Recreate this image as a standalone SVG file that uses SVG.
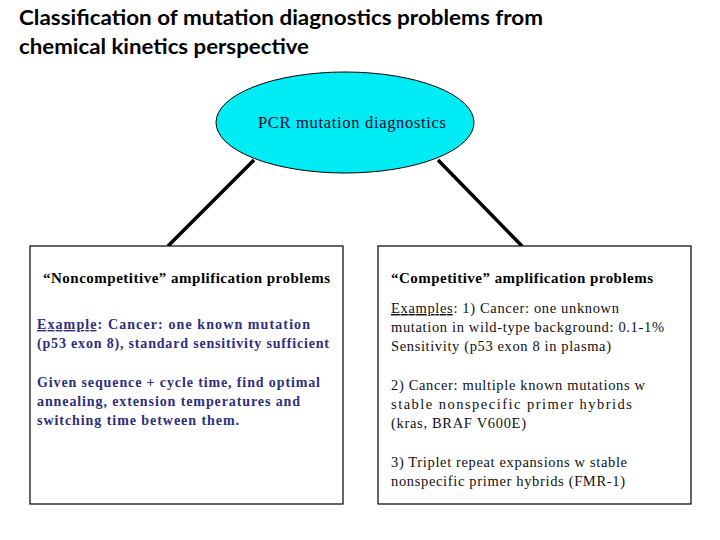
<svg xmlns="http://www.w3.org/2000/svg" width="720" height="540" viewBox="0 0 720 540">
<style>
.title{font-family:Lato,"Liberation Sans",sans-serif;font-weight:bold;font-size:20px;fill:#000}
.head{font-family:"Liberation Serif","Times New Roman",serif;font-weight:bold;font-size:15px;fill:#000}
.navy{font-family:"Liberation Serif","Times New Roman",serif;font-weight:bold;font-size:14px;fill:#2e2e80}
.plain{font-family:"Liberation Serif","Times New Roman",serif;font-size:14.5px;fill:#111}
.box{fill:#fff;stroke:#000;stroke-width:1.2}
.conn{stroke:#000;stroke-width:3.5;fill:none}
</style>
<rect width="720" height="540" fill="#fff"/>
<g id="title">
<text class="title" x="19" y="25" textLength="524" lengthAdjust="spacingAndGlyphs">Classification of mutation diagnostics problems from</text>
<text class="title" x="19" y="54" textLength="290" lengthAdjust="spacingAndGlyphs">chemical kinetics perspective</text>
</g>
<g id="connectors">
<line class="conn" x1="254" y1="160" x2="168" y2="246"/>
<line class="conn" x1="438" y1="160" x2="522" y2="246"/>
</g>
<g id="root">
<ellipse cx="345" cy="122.5" rx="129" ry="50.5" fill="#00ecf4" stroke="#000" stroke-width="1"/>
<text x="258" y="128" font-family="Liberation Serif, Times New Roman, serif" font-size="16.5" fill="#0a0a30" textLength="188" lengthAdjust="spacing">PCR mutation diagnostics</text>
</g>
<g id="noncompetitive">
<rect class="box" x="30" y="246" width="313" height="258"/>
<text class="head" x="43" y="283" textLength="287" lengthAdjust="spacing">“Noncompetitive” amplification problems</text>
<text class="navy" x="37" y="329" textLength="273" lengthAdjust="spacing"><tspan text-decoration="underline">Example</tspan>:  Cancer: one known mutation</text>
<text class="navy" x="37" y="348" textLength="292" lengthAdjust="spacing">(p53 exon 8), standard sensitivity sufficient</text>
<text class="navy" x="37" y="387" textLength="283" lengthAdjust="spacing">Given sequence + cycle time, find optimal</text>
<text class="navy" x="37" y="406" textLength="263" lengthAdjust="spacing">annealing, extension temperatures and</text>
<text class="navy" x="37" y="425" textLength="202" lengthAdjust="spacing">switching time between them.</text>
</g>
<g id="competitive">
<rect class="box" x="378" y="246" width="313" height="258"/>
<text class="head" x="391" y="283" textLength="262" lengthAdjust="spacing">“Competitive” amplification problems</text>
<text class="plain" x="391" y="313" textLength="228" lengthAdjust="spacing"><tspan text-decoration="underline">Examples</tspan>:  1) Cancer: one unknown</text>
<text class="plain" x="391" y="332" textLength="273" lengthAdjust="spacing">mutation in wild-type background: 0.1-1%</text>
<text class="plain" x="391" y="351" textLength="220" lengthAdjust="spacing">Sensitivity (p53 exon 8 in plasma)</text>
<text class="plain" x="391" y="390" textLength="254" lengthAdjust="spacing">2) Cancer: multiple known mutations w</text>
<text class="plain" x="391" y="409" textLength="241" lengthAdjust="spacing">stable nonspecific primer hybrids</text>
<text class="plain" x="391" y="428" textLength="135" lengthAdjust="spacing">(kras, BRAF V600E)</text>
<text class="plain" x="391" y="467" textLength="236" lengthAdjust="spacing">3) Triplet repeat expansions w stable</text>
<text class="plain" x="391" y="486" textLength="234" lengthAdjust="spacing">nonspecific primer hybrids (FMR-1)</text>
</g>
</svg>
